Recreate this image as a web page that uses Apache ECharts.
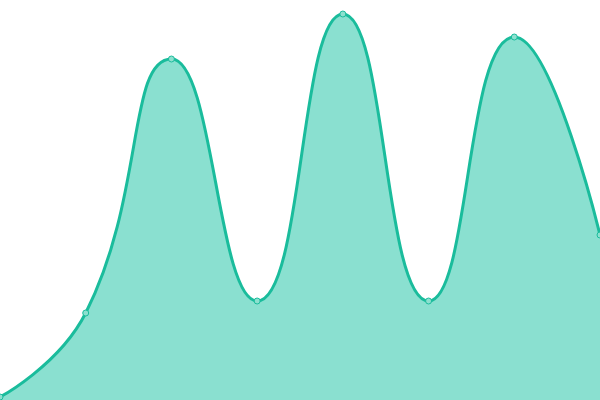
<!DOCTYPE html>
<html><head><meta charset="utf-8">
<script src="https://cdn.jsdelivr.net/npm/echarts@6/dist/echarts.min.js"></script>
<style>html,body{margin:0;padding:0;background:#fff}#c{width:600px;height:400px}</style>
</head><body><div id="c"></div>
<script>
const categories = ['1','2','3','4','5','6','7','8'];
const values = [3, 87, 341, 99, 386, 99, 363, 165];
const chart = echarts.init(document.getElementById('c'));
chart.setOption({
  animation: false,
  grid: {left: 0, right: 0, top: 0, bottom: 0},
  xAxis: {type: 'category', data: categories, boundaryGap: false, show: false},
  yAxis: {type: 'value', min: 0, max: 400, show: false},
  series: [{
    type: 'line',
    data: values,
    smooth: true,
    symbol: 'circle',
    symbolSize: 6,
    itemStyle: {color: '#8de0cf', borderColor: '#1abc9c', borderWidth: 1},
    lineStyle: {color: '#1abc9c', width: 3},
    areaStyle: {color: '#8ae0d0', opacity: 1}
  }]
});
</script></body></html>
